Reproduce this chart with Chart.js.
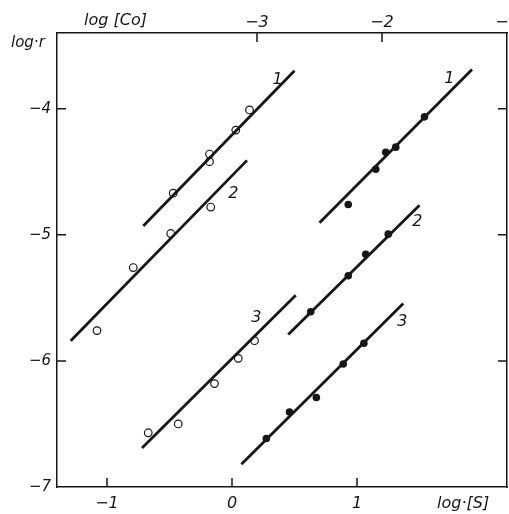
<!DOCTYPE html>
<html>
<head>
<meta charset="utf-8">
<script src="https://cdn.jsdelivr.net/npm/chart.js@4.4.0/dist/chart.umd.min.js"></script>
<style>
  html, body { margin: 0; padding: 0; background: #fff; }
  canvas { display: block; }
</style>
</head>
<body>
<canvas id="c" width="509" height="514"></canvas>
<script>
// Tick labels
const S_TICKS = [-1, 0, 1];          // bottom axis, log [S]
const CO_TICKS = [-3, -2, -1];       // top axis, log [Co]
const R_TICKS = [-7, -6, -5, -4];    // log r

// Open circles: log r against log [Co]   ([x, y] pairs)
const coRun1 = [[-3.67, -4.67], [-3.38, -4.36], [-3.38, -4.42], [-3.17, -4.17], [-3.06, -4.01]];
const coRun2 = [[-4.28, -5.76], [-3.99, -5.26], [-3.69, -4.99], [-3.37, -4.78]];
const coRun3 = [[-3.87, -6.57], [-3.63, -6.50], [-3.34, -6.18], [-3.15, -5.98], [-3.02, -5.84]];
// Fitted lines (end points) for the open-circle runs
const coFit1 = [[-3.91, -4.93], [-2.70, -3.70]];
const coFit2 = [[-4.49, -5.84], [-3.08, -4.41]];
const coFit3 = [[-3.92, -6.69], [-2.69, -5.48]];

// Filled circles: log r against log [S]
const sRun1 = [[0.93, -4.76], [1.15, -4.48], [1.23, -4.345], [1.31, -4.305], [1.54, -4.065]];
const sRun2 = [[0.63, -5.61], [0.93, -5.325], [1.07, -5.155], [1.25, -4.995]];
const sRun3 = [[0.275, -6.615], [0.46, -6.405], [0.675, -6.29], [0.89, -6.025], [1.055, -5.86]];
// Fitted lines (end points) for the filled-circle runs
const sFit1 = [[0.70, -4.905], [1.92, -3.69]];
const sFit2 = [[0.45, -5.79], [1.50, -4.765]];
const sFit3 = [[0.075, -6.82], [1.37, -5.545]];

// Curve numbers placed next to the lines: [text, x, y]
const coTags = [['1', -2.835, -3.768], ['2', -3.19, -4.674], ['3', -3.005, -5.662]];
const sTags = [['1', 1.738, -3.76], ['2', 1.483, -4.90], ['3', 1.363, -5.69]];

const INK = '#161616';
const FONT = "'DejaVu Sans', sans-serif";

const pts = arr => arr.map(([x, y]) => ({ x, y }));
const fmt = v => (v < 0 ? '\u2212' + Math.abs(v) : String(v));

function openRun(arr) {
  return { data: pts(arr), xAxisID: 'xCo', showLine: false, pointRadius: 3.8,
    pointBorderWidth: 1.2, pointBorderColor: INK, pointBackgroundColor: '#fff' };
}
function filledRun(arr) {
  return { data: pts(arr), xAxisID: 'xS', showLine: false, pointRadius: 3.8,
    pointBorderWidth: 0, pointBorderColor: INK, pointBackgroundColor: INK };
}
function fitLine(arr, axis) {
  return { data: pts(arr), xAxisID: axis, showLine: true, pointRadius: 0,
    borderColor: INK, borderWidth: 2.8, fill: false };
}

// Short tick marks pointing into the plot area on all four sides
const innerTicks = {
  id: 'innerTicks',
  afterDraw(chart) {
    const { ctx, chartArea: a } = chart;
    const L = 9;
    ctx.save();
    ctx.strokeStyle = INK;
    ctx.lineWidth = 1.5;
    ctx.beginPath();
    const sx = chart.scales.xS, sc = chart.scales.xCo, yl = chart.scales.y, yr = chart.scales.yR;
    S_TICKS.forEach(v => { const p = sx.getPixelForValue(v); ctx.moveTo(p, a.bottom); ctx.lineTo(p, a.bottom - L); });
    CO_TICKS.forEach(v => { const p = sc.getPixelForValue(v); if (p < a.right - 2) { ctx.moveTo(p, a.top); ctx.lineTo(p, a.top + L); } });
    R_TICKS.forEach(v => {
      const p = yl.getPixelForValue(v);
      if (p < a.bottom - 2) { ctx.moveTo(a.left, p); ctx.lineTo(a.left + L, p); }
      const q = yr.getPixelForValue(v);
      if (q < a.bottom - 2) { ctx.moveTo(a.right, q); ctx.lineTo(a.right - L, q); }
    });
    ctx.stroke();

    // axis names
    ctx.fillStyle = INK;
    ctx.textBaseline = 'middle';
    ctx.textAlign = 'left';
    ctx.font = 'italic 16px ' + FONT;
    ctx.fillText('log [Co]', 84, 21);
    ctx.fillText('log\u00B7[S]', 437, 504);
    ctx.font = 'italic 15px ' + FONT;
    ctx.fillText('log\u00B7r', 11, 43);

    // curve numbers
    ctx.font = 'italic 16px ' + FONT;
    ctx.textAlign = 'center';
    coTags.forEach(([t, x, y]) => ctx.fillText(t, sc.getPixelForValue(x), yl.getPixelForValue(y)));
    sTags.forEach(([t, x, y]) => ctx.fillText(t, sx.getPixelForValue(x), yl.getPixelForValue(y)));
    ctx.restore();
  }
};

const axisBase = {
  type: 'linear',
  grid: { drawOnChartArea: false, drawTicks: false },
  border: { display: true, color: INK, width: 1.5 }
};

new Chart(document.getElementById('c'), {
  type: 'scatter',
  data: {
    datasets: [
      fitLine(coFit1, 'xCo'), fitLine(coFit2, 'xCo'), fitLine(coFit3, 'xCo'),
      fitLine(sFit1, 'xS'), fitLine(sFit2, 'xS'), fitLine(sFit3, 'xS'),
      openRun(coRun1), openRun(coRun2), openRun(coRun3),
      filledRun(sRun1), filledRun(sRun2), filledRun(sRun3)
    ]
  },
  options: {
    responsive: false,
    animation: false,
    devicePixelRatio: 1,
    layout: { padding: 0, autoPadding: false },
    plugins: { legend: { display: false }, tooltip: { enabled: false } },
    scales: {
      xS: Object.assign({}, axisBase, {
        position: 'bottom', min: -1.4, max: 2.2,
        afterBuildTicks: s => { s.ticks = S_TICKS.map(v => ({ value: v })); },
        afterFit: s => { s.height = 27; s.paddingLeft = 0; s.paddingRight = 0; },
        ticks: { padding: 7, color: INK, maxRotation: 0, autoSkip: false,
          font: { family: FONT, size: 16, style: 'italic' }, callback: fmt }
      }),
      xCo: Object.assign({}, axisBase, {
        position: 'top', min: -4.6, max: -1.0,
        afterBuildTicks: s => { s.ticks = CO_TICKS.map(v => ({ value: v })); },
        afterFit: s => { s.height = 33; s.paddingLeft = 0; s.paddingRight = 0; },
        ticks: { padding: 1, color: INK, maxRotation: 0, autoSkip: false,
          font: { family: FONT, size: 16, style: 'italic' }, callback: fmt }
      }),
      y: Object.assign({}, axisBase, {
        position: 'left', min: -7, max: -3.4,
        afterBuildTicks: s => { s.ticks = R_TICKS.map(v => ({ value: v })); },
        afterFit: s => { s.width = 57; s.paddingTop = 0; s.paddingBottom = 0; },
        ticks: { padding: 6, color: INK, autoSkip: false,
          font: { family: FONT, size: 15, style: 'italic' }, callback: fmt }
      }),
      yR: Object.assign({}, axisBase, {
        position: 'right', min: -7, max: -3.4,
        afterBuildTicks: s => { s.ticks = R_TICKS.map(v => ({ value: v })); },
        afterFit: s => { s.width = 2; s.paddingTop = 0; s.paddingBottom = 0; },
        ticks: { display: false }
      })
    }
  },
  plugins: [innerTicks]
});
</script>
</body>
</html>
